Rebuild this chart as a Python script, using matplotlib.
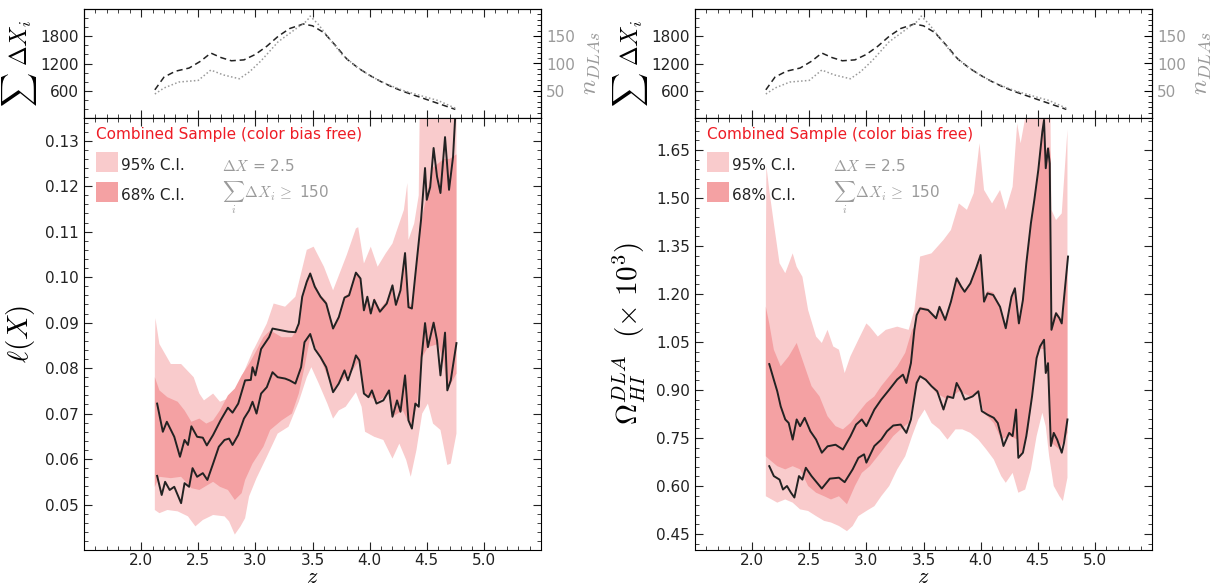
import matplotlib.pyplot as plt
from matplotlib.ticker import MultipleLocator
from matplotlib.patches import Rectangle
import numpy as np

plt.rcParams['mathtext.fontset'] = 'cm'
plt.rcParams['font.family'] = 'DejaVu Sans'

# --- top panels: total path length and number of DLAs
z_dx = [2.12, 2.2, 2.3, 2.42, 2.52, 2.61, 2.7, 2.79, 2.9, 3.0, 3.1, 3.2, 3.3, 3.42, 3.5,
        3.6, 3.7, 3.8, 3.9, 4.0, 4.1, 4.2, 4.3, 4.45, 4.6, 4.75]
sum_dx = [620, 900, 1030, 1100, 1250, 1430, 1330, 1260, 1280, 1400, 1580, 1800, 1970, 2070, 2030,
          1880, 1600, 1300, 1100, 940, 800, 680, 580, 450, 320, 190]
z_n = [2.12, 2.2, 2.33, 2.5, 2.61, 2.72, 2.86, 2.95, 3.05, 3.2, 3.35, 3.45, 3.48, 3.55, 3.65,
       3.76, 3.88, 4.0, 4.1, 4.2, 4.3, 4.48, 4.6, 4.75]
n_dla = [44, 55, 66, 69, 88, 79, 72, 85, 105, 140, 163, 178, 187, 172, 145,
         116, 95, 78, 67, 58, 50, 39, 32, 18]

# --- left panel: l(X)
l_up_z = [2.14, 2.19, 2.225, 2.29, 2.34, 2.38, 2.41, 2.44, 2.49, 2.54, 2.575, 2.63, 2.695, 2.76, 2.80,
          2.85, 2.91, 2.96, 2.975, 3.0, 3.05, 3.12, 3.15, 3.23, 3.29, 3.35, 3.38, 3.41, 3.45, 3.48,
          3.52, 3.57, 3.62, 3.68, 3.73, 3.78, 3.82, 3.88, 3.92, 3.95, 3.98, 4.01, 4.04, 4.09, 4.15,
          4.2, 4.23, 4.27, 4.31, 4.34, 4.37, 4.40, 4.45, 4.485, 4.5, 4.53, 4.56, 4.59, 4.62, 4.66,
          4.695, 4.73, 4.755]
l_up_v = [0.0722, 0.066, 0.0682, 0.0649, 0.0605, 0.0642, 0.0631, 0.0672, 0.0649, 0.0647, 0.063, 0.0653,
          0.0685, 0.0713, 0.0702, 0.0722, 0.0773, 0.0774, 0.0802, 0.0784, 0.0842, 0.0868, 0.0887, 0.0883,
          0.088, 0.0879, 0.0898, 0.0957, 0.099, 0.1008, 0.0979, 0.0957, 0.0942, 0.0887, 0.0912, 0.0955,
          0.096, 0.1010, 0.0997, 0.0927, 0.0957, 0.092, 0.095, 0.0924, 0.0942, 0.0982, 0.0939, 0.0971,
          0.1053, 0.0934, 0.0931, 0.1005, 0.1126, 0.124, 0.117, 0.1198, 0.1284, 0.1221, 0.1185, 0.1308,
          0.1192, 0.1264, 0.138]
l_lo_z = [2.14, 2.18, 2.21, 2.25, 2.29, 2.32, 2.35, 2.38, 2.42, 2.45, 2.49, 2.54, 2.58, 2.63, 2.68,
          2.73, 2.77, 2.80, 2.85, 2.90, 2.945, 2.975, 3.01, 3.05, 3.10, 3.15, 3.195, 3.26, 3.30, 3.35,
          3.40, 3.43, 3.48, 3.52, 3.57, 3.62, 3.68, 3.73, 3.78, 3.81, 3.85, 3.88, 3.91, 3.95, 3.99,
          4.02, 4.06, 4.12, 4.17, 4.20, 4.24, 4.27, 4.31, 4.34, 4.37, 4.40, 4.43, 4.455, 4.485, 4.51,
          4.56, 4.59, 4.62, 4.66, 4.68, 4.71, 4.76]
l_lo_v = [0.0563, 0.0521, 0.055, 0.0532, 0.0539, 0.0521, 0.0503, 0.0547, 0.0539, 0.058, 0.0561, 0.0569,
          0.0554, 0.059, 0.0627, 0.0642, 0.0645, 0.0631, 0.0653, 0.0689, 0.0707, 0.0726, 0.070, 0.0744,
          0.0758, 0.0791, 0.078, 0.0777, 0.0773, 0.0766, 0.0802, 0.0857, 0.0875, 0.0842, 0.0824, 0.0802,
          0.0747, 0.0766, 0.0795, 0.0773, 0.0802, 0.0828, 0.0817, 0.0744, 0.0736, 0.0751, 0.0722, 0.0729,
          0.0751, 0.0693, 0.0729, 0.0704, 0.0784, 0.0685, 0.0667, 0.0722, 0.0715, 0.0824, 0.0899, 0.0846,
          0.090, 0.0861, 0.0784, 0.0878, 0.0751, 0.0773, 0.0855]
l95_up_z = [2.12, 2.125, 2.16, 2.26, 2.35, 2.46, 2.51, 2.55, 2.63, 2.69, 2.79, 2.88, 2.98, 2.99, 3.1,
            3.16, 3.26, 3.35, 3.45, 3.51, 3.60, 3.68, 3.76, 3.80, 3.88, 3.90, 3.95, 4.01, 4.07, 4.14,
            4.20, 4.24, 4.30, 4.33, 4.34, 4.39, 4.43, 4.44, 4.76]
l95_up_v = [0.082, 0.091, 0.0853, 0.0809, 0.0809, 0.078, 0.0744, 0.0729, 0.0744, 0.0726, 0.0736, 0.078,
            0.0839, 0.0843, 0.0898, 0.0942, 0.0935, 0.0957, 0.106, 0.1067, 0.1023, 0.0971, 0.1023, 0.1049,
            0.1107, 0.111, 0.103, 0.1067, 0.1023, 0.1052, 0.1074, 0.1104, 0.1148, 0.1207, 0.1082, 0.1118,
            0.118, 0.14, 0.14]
l95_lo_z = [2.12, 2.16, 2.23, 2.32, 2.41, 2.475, 2.54, 2.63, 2.73, 2.77, 2.82, 2.87, 2.91, 2.945, 3.01,
            3.10, 3.195, 3.29, 3.38, 3.45, 3.49, 3.555, 3.63, 3.68, 3.73, 3.79, 3.88, 3.93, 3.96, 4.04,
            4.12, 4.2, 4.26, 4.32, 4.36, 4.41, 4.46, 4.51, 4.555, 4.62, 4.68, 4.71, 4.76]
l95_lo_v = [0.0488, 0.0481, 0.0488, 0.0485, 0.0474, 0.0452, 0.0466, 0.0477, 0.0474, 0.0463, 0.0434, 0.0452,
            0.047, 0.0518, 0.0558, 0.0605, 0.0656, 0.0671, 0.0726, 0.078, 0.0802, 0.0766, 0.0722, 0.0689,
            0.0707, 0.0715, 0.0747, 0.0715, 0.066, 0.0649, 0.0642, 0.0601, 0.0634, 0.0598, 0.0561, 0.062,
            0.07, 0.0722, 0.0678, 0.0664, 0.0587, 0.059, 0.0656]
l68_up_z = [2.12, 2.16, 2.23, 2.32, 2.38, 2.44, 2.51, 2.57, 2.63, 2.69, 2.76, 2.82, 2.88, 2.945, 3.01,
            3.07, 3.13, 3.23, 3.32, 3.38, 3.41, 3.45, 3.48, 3.52, 3.57, 3.62, 3.68, 3.73, 3.78, 3.82,
            3.88, 3.92, 3.95, 3.98, 4.01, 4.04, 4.09, 4.15, 4.2, 4.23, 4.27, 4.31, 4.34, 4.37, 4.40,
            4.45, 4.50, 4.55, 4.60, 4.65, 4.70, 4.76]
l68_up_v = [0.078, 0.0751, 0.0736, 0.0726, 0.0707, 0.0682, 0.0689, 0.0678, 0.0685, 0.0707, 0.074, 0.0755,
            0.0784, 0.0809, 0.0839, 0.0868, 0.0883, 0.0868, 0.0868, 0.089, 0.0957, 0.0995, 0.1012, 0.0985,
            0.096, 0.0948, 0.0893, 0.0915, 0.0958, 0.0965, 0.1012, 0.1, 0.093, 0.096, 0.0925, 0.0955,
            0.093, 0.0948, 0.0985, 0.0945, 0.0975, 0.1055, 0.0948, 0.0935, 0.1005, 0.112, 0.118, 0.124,
            0.125, 0.126, 0.126, 0.127]
l68_lo_z = [2.12, 2.16, 2.26, 2.35, 2.44, 2.51, 2.63, 2.69, 2.76, 2.82, 2.88, 2.91, 2.975, 3.07, 3.13,
            3.23, 3.32, 3.38, 3.43, 3.48, 3.54, 3.60, 3.68, 3.76, 3.85, 3.91, 3.95, 4.01, 4.07, 4.17,
            4.2, 4.29, 4.36, 4.41, 4.46, 4.51, 4.60, 4.65, 4.68, 4.76]
l68_lo_v = [0.0539, 0.0561, 0.0558, 0.0561, 0.0536, 0.0532, 0.055, 0.0539, 0.0532, 0.051, 0.0525, 0.0554,
            0.059, 0.0627, 0.0664, 0.0685, 0.07, 0.0744, 0.0802, 0.0868, 0.0839, 0.0802, 0.0751, 0.0773,
            0.0795, 0.0817, 0.0744, 0.0736, 0.0726, 0.0744, 0.0693, 0.0707, 0.0671, 0.0715, 0.0824, 0.0846,
            0.0853, 0.081, 0.0751, 0.0788]

# --- right panel: Omega_HI (x 10^3)
r_up_z = [2.15, 2.19, 2.22, 2.25, 2.29, 2.32, 2.355, 2.39, 2.42, 2.46, 2.51, 2.56, 2.61, 2.66, 2.73,
          2.795, 2.86, 2.91, 2.96, 3.0, 3.07, 3.13, 3.20, 3.27, 3.32, 3.35, 3.39, 3.42, 3.44, 3.47,
          3.54, 3.61, 3.64, 3.69, 3.74, 3.79, 3.83, 3.86, 3.91, 3.96, 4.0, 4.03, 4.06, 4.11, 4.17,
          4.22, 4.27, 4.30, 4.335, 4.37, 4.40, 4.44, 4.47, 4.505, 4.54, 4.555, 4.57, 4.59, 4.605, 4.62,
          4.66, 4.69, 4.71, 4.72, 4.765]
r_up_v = [0.981, 0.932, 0.896, 0.849, 0.808, 0.797, 0.745, 0.808, 0.787, 0.813, 0.771, 0.745, 0.704, 0.724,
          0.729, 0.714, 0.755, 0.792, 0.808, 0.787, 0.839, 0.87, 0.901, 0.933, 0.948, 0.922, 0.984, 1.088,
          1.134, 1.155, 1.15, 1.124, 1.16, 1.119, 1.176, 1.249, 1.223, 1.207, 1.233, 1.28, 1.322, 1.176,
          1.202, 1.197, 1.16, 1.093, 1.191, 1.218, 1.108, 1.181, 1.296, 1.421, 1.494, 1.588, 1.707, 1.744,
          1.593, 1.655, 1.608, 1.088, 1.14, 1.124, 1.108, 1.15, 1.317]
r_lo_z = [2.15, 2.19, 2.24, 2.27, 2.305, 2.34, 2.37, 2.41, 2.44, 2.47, 2.52, 2.61, 2.68, 2.76, 2.81,
          2.88, 2.93, 2.98, 3.0, 3.07, 3.13, 3.18, 3.235, 3.30, 3.35, 3.39, 3.44, 3.47, 3.52, 3.57,
          3.62, 3.675, 3.71, 3.76, 3.79, 3.83, 3.86, 3.93, 3.98, 4.01, 4.06, 4.115, 4.15, 4.18, 4.2,
          4.25, 4.28, 4.31, 4.33, 4.37, 4.40, 4.45, 4.49, 4.52, 4.555, 4.57, 4.59, 4.615, 4.64, 4.67,
          4.71, 4.73, 4.76]
r_lo_v = [0.662, 0.631, 0.62, 0.589, 0.6, 0.579, 0.564, 0.631, 0.62, 0.657, 0.631, 0.592, 0.623, 0.626,
          0.612, 0.652, 0.688, 0.699, 0.673, 0.725, 0.745, 0.771, 0.789, 0.792, 0.766, 0.808, 0.922, 0.943,
          0.932, 0.912, 0.896, 0.839, 0.880, 0.875, 0.922, 0.896, 0.87, 0.880, 0.896, 0.834, 0.823, 0.813,
          0.797, 0.756, 0.725, 0.766, 0.756, 0.839, 0.688, 0.704, 0.756, 0.88, 1.0, 1.036, 1.057, 0.953,
          0.984, 0.725, 0.766, 0.745, 0.704, 0.735, 0.808]
r95_up_z = [2.12, 2.125, 2.15, 2.19, 2.24, 2.29, 2.355, 2.39, 2.44, 2.49, 2.56, 2.61, 2.66, 2.71, 2.76,
            2.81, 2.86, 2.93, 3.0, 3.03, 3.10, 3.17, 3.27, 3.37, 3.42, 3.47, 3.57, 3.675, 3.74, 3.81,
            3.88, 3.94, 3.99, 4.03, 4.10, 4.17, 4.22, 4.28, 4.32, 4.35, 4.39, 4.40, 4.61, 4.62, 4.66,
            4.71, 4.76]
r95_up_v = [1.3, 1.60, 1.525, 1.421, 1.296, 1.265, 1.327, 1.285, 1.254, 1.15, 1.067, 1.047, 1.088, 1.036,
            1.026, 0.953, 1.005, 1.057, 1.108, 1.098, 1.067, 1.088, 1.098, 1.088, 1.15, 1.317, 1.327, 1.369,
            1.40, 1.483, 1.463, 1.515, 1.671, 1.525, 1.483, 1.525, 1.463, 1.535, 1.733, 1.671, 1.75, 1.8,
            1.8, 1.463, 1.431, 1.452, 1.713]
r95_lo_z = [2.12, 2.17, 2.22, 2.29, 2.355, 2.42, 2.49, 2.56, 2.63, 2.69, 2.76, 2.83, 2.88, 2.93, 3.0,
            3.07, 3.13, 3.20, 3.27, 3.34, 3.40, 3.455, 3.51, 3.57, 3.64, 3.71, 3.78, 3.84, 3.91, 3.98,
            4.05, 4.115, 4.18, 4.22, 4.28, 4.33, 4.39, 4.44, 4.49, 4.54, 4.57, 4.60, 4.64, 4.69, 4.72,
            4.76]
r95_lo_v = [0.568, 0.558, 0.548, 0.558, 0.548, 0.527, 0.522, 0.506, 0.491, 0.486, 0.475, 0.459, 0.475,
            0.506, 0.522, 0.537, 0.568, 0.6, 0.652, 0.693, 0.756, 0.808, 0.839, 0.797, 0.777, 0.745, 0.777,
            0.777, 0.766, 0.745, 0.714, 0.683, 0.631, 0.61, 0.641, 0.579, 0.589, 0.652, 0.756, 0.829, 0.787,
            0.693, 0.6, 0.568, 0.553, 0.626]
r68_up_z = [2.12, 2.15, 2.19, 2.25, 2.32, 2.39, 2.46, 2.52, 2.59, 2.66, 2.73, 2.795, 2.86, 2.93, 3.0,
            3.07, 3.13, 3.20, 3.27, 3.34, 3.40, 3.43, 3.44, 3.47, 3.54, 3.61, 3.64, 3.69, 3.74, 3.79,
            3.83, 3.86, 3.91, 3.96, 4.0, 4.03, 4.06, 4.11, 4.17, 4.22, 4.27, 4.30, 4.335, 4.37, 4.40,
            4.44, 4.47, 4.505, 4.54, 4.555, 4.57, 4.605, 4.615, 4.62, 4.66, 4.69, 4.71, 4.72, 4.76]
r68_up_v = [1.16, 1.108, 1.026, 0.974, 1.005, 1.047, 0.974, 0.912, 0.88, 0.818, 0.787, 0.777, 0.797, 0.829,
            0.86, 0.88, 0.912, 0.943, 0.974, 1.016, 1.088, 1.10, 1.14, 1.16, 1.155, 1.13, 1.165, 1.125,
            1.18, 1.255, 1.23, 1.212, 1.238, 1.285, 1.325, 1.19, 1.21, 1.205, 1.165, 1.10, 1.195, 1.222,
            1.115, 1.19, 1.30, 1.425, 1.50, 1.595, 1.71, 1.75, 1.65, 1.66, 1.62, 1.12, 1.145, 1.13,
            1.115, 1.16, 1.32]
r68_lo_z = [2.12, 2.15, 2.22, 2.29, 2.355, 2.42, 2.49, 2.56, 2.63, 2.69, 2.76, 2.83, 2.90, 2.96, 3.03,
            3.10, 3.17, 3.235, 3.30, 3.37, 3.42, 3.47, 3.54, 3.61, 3.71, 3.81, 3.91, 3.98, 4.03, 4.115,
            4.18, 4.25, 4.32, 4.35, 4.42, 4.47, 4.52, 4.57, 4.60, 4.62, 4.69, 4.76]
r68_lo_v = [0.693, 0.683, 0.662, 0.652, 0.662, 0.652, 0.6, 0.579, 0.568, 0.558, 0.568, 0.543, 0.6, 0.641,
            0.662, 0.693, 0.725, 0.756, 0.777, 0.797, 0.88, 0.943, 0.922, 0.891, 0.87, 0.896, 0.88, 0.891,
            0.829, 0.797, 0.746, 0.756, 0.746, 0.693, 0.777, 0.964, 1.03, 1.026, 0.88, 0.735, 0.714, 0.766]

z_ticks = [2.0, 2.5, 3.0, 3.5, 4.0, 4.5, 5.0]
l_ticks = [0.05, 0.06, 0.07, 0.08, 0.09, 0.10, 0.11, 0.12, 0.13]
r_ticks = [0.45, 0.60, 0.75, 0.90, 1.05, 1.20, 1.35, 1.50, 1.65]

c95 = '#f9cbcc'
c68 = '#f4a1a3'
grey = '#9a9a9a'
ink = '#222222'


def band(ax, zu, vu, zl, vl, color):
    xs = np.concatenate([zu, zl[::-1]])
    ys = np.concatenate([vu, vl[::-1]])
    ax.fill(xs, ys, color=color, lw=0)


def style(ax, minor_y):
    ax.set_xlim(1.5, 5.5)
    ax.set_xticks(z_ticks)
    ax.xaxis.set_minor_locator(MultipleLocator(0.1))
    ax.yaxis.set_minor_locator(MultipleLocator(minor_y))
    ax.tick_params(which='both', direction='in', top=True, right=True, labelsize=11, colors=ink)
    ax.tick_params(axis='x', pad=2)
    ax.tick_params(which='major', length=6)
    ax.tick_params(which='minor', length=3)


fig = plt.figure(figsize=(12.17, 5.88), dpi=100)

panels = [
    dict(x0=84 / 1217, ylim=(0.04, 0.135), ticks=l_ticks, minor=0.002,
         ylabel=r'$\ell(X)$',
         data=(l95_up_z, l95_up_v, l95_lo_z, l95_lo_v, l68_up_z, l68_up_v, l68_lo_z, l68_lo_v,
               l_up_z, l_up_v, l_lo_z, l_lo_v)),
    dict(x0=695 / 1217, ylim=(0.40, 1.75), ticks=r_ticks, minor=0.03,
         ylabel=r'$\Omega_{HI}^{DLA}\ \ (\times\ 10^3)$',
         data=(r95_up_z, r95_up_v, r95_lo_z, r95_lo_v, r68_up_z, r68_up_v, r68_lo_z, r68_lo_v,
               r_up_z, r_up_v, r_lo_z, r_lo_v)),
]

w = 457 / 1217
for p in panels:
    # top panel
    axt = fig.add_axes([p['x0'], 1 - 118 / 588, w, 109 / 588])
    axt.plot(z_dx, sum_dx, color=ink, ls=(0, (4, 2.5)), lw=1.1)
    axt.set_ylim(0, 2400)
    style(axt, 200)
    axt.tick_params(right=False, labelbottom=False)
    axt.set_yticks([600, 1200, 1800])
    axt.set_ylabel(r'$\sum\ \Delta X_i$', fontsize=17, labelpad=1)
    axn = axt.twinx()
    axn.plot(z_n, n_dla, color=grey, ls=(0, (1, 1.5)), lw=1.1)
    axn.set_ylim(0, 200)
    axn.set_xlim(1.5, 5.5)
    axn.set_yticks([50, 100, 150])
    axn.yaxis.set_minor_locator(MultipleLocator(10))
    axn.tick_params(which='both', direction='in', labelsize=11, labelcolor=grey)
    axn.tick_params(which='major', length=6)
    axn.tick_params(which='minor', length=3)
    axn.set_ylabel(r'$n_{DLAs}$', fontsize=18, color=grey, labelpad=3)

    # main panel
    ax = fig.add_axes([p['x0'], 38 / 588, w, 432 / 588])
    d = [np.array(a) for a in p['data']]
    band(ax, d[0], d[1], d[2], d[3], c95)
    band(ax, d[4], d[5], d[6], d[7], c68)
    ax.plot(d[8], d[9], color=ink, lw=1.4)
    ax.plot(d[10], d[11], color=ink, lw=1.4)
    ax.set_ylim(*p['ylim'])
    style(ax, p['minor'])
    ax.set_yticks(p['ticks'])
    ax.set_yticklabels(['%.2f' % t for t in p['ticks']])
    ax.set_ylabel(p['ylabel'], fontsize=21, labelpad=6)
    fig.text(p['x0'] + w / 2, 0.009, r'$z$', fontsize=16, ha='center', va='baseline')

    ax.text(0.026, 0.962, 'Combined Sample (color bias free)', color='#ee1c25', fontsize=11,
            transform=ax.transAxes, va='center')
    ax.add_patch(Rectangle((0.026, 0.876), 0.048, 0.045, transform=ax.transAxes, color=c95, lw=0))
    ax.add_patch(Rectangle((0.026, 0.806), 0.048, 0.045, transform=ax.transAxes, color=c68, lw=0))
    ax.text(0.082, 0.889, '95% C.I.', fontsize=11, color=ink, transform=ax.transAxes, va='center')
    ax.text(0.082, 0.820, '68% C.I.', fontsize=11, color=ink, transform=ax.transAxes, va='center')
    ax.text(0.302, 0.889, r'$\Delta X$ = 2.5', fontsize=11, color=grey, transform=ax.transAxes, va='center')
    ax.text(0.302, 0.815, r'$\sum_i\,\Delta X_i\, \geq$ 150', fontsize=11, color=grey,
            transform=ax.transAxes, va='center')

fig.savefig('out.png', dpi=100)
